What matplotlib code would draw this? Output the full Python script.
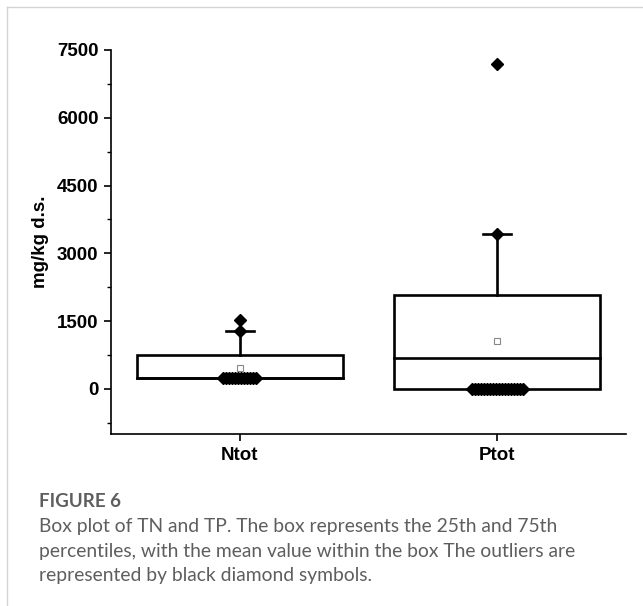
import numpy as np
import matplotlib
matplotlib.use("Agg")
import matplotlib.pyplot as plt
from matplotlib.patches import Rectangle
from matplotlib.lines import Line2D

# ---- data ----
categories = ["Ntot", "Ptot"]
q1 = [240, 0]
median = [240, 690]
q3 = [755, 2080]
mean = [465, 1055]
whisker_high = [1290, 3420]
whisker_low = [240, 0]
outliers_high = [[1290, 1530], [3420, 7200]]
low_cluster_value = [240, 0]
low_cluster_count = [12, 18]

y_ticks = [0, 1500, 3000, 4500, 6000, 7500]
y_label = "mg/kg d.s."
caption_title = "FIGURE 6"
caption_lines = [
    "Box plot of TN and TP. The box represents the 25th and 75th",
    "percentiles, with the mean value within the box The outliers are",
    "represented by black diamond symbols.",
]

fig = plt.figure(figsize=(6.43, 6.06), dpi=100)

# card border (top and left)
fig.add_artist(Line2D([7/643, 7/643], [0, 1 - 7/606], transform=fig.transFigure,
                      color="#d3d3d3", lw=1.0))
fig.add_artist(Line2D([7/643, 1], [1 - 7/606, 1 - 7/606], transform=fig.transFigure,
                      color="#d3d3d3", lw=1.0))

ax = fig.add_axes([111/643, 1 - 434/606, (626 - 111)/643, (434 - 50)/606])
ax.set_xlim(0.5, 2.5)
ax.set_ylim(-1000, 7500)

font = ["Liberation Sans", "DejaVu Sans"]
lw = 1.9
box_w = 0.8
cap_w = 0.11
pos = np.arange(1, len(categories) + 1)

for i, x in enumerate(pos):
    ax.add_patch(Rectangle((x - box_w/2, q1[i]), box_w, q3[i] - q1[i],
                           fill=False, edgecolor="black", lw=lw, zorder=3))
    ax.plot([x - box_w/2, x + box_w/2], [median[i], median[i]], color="black", lw=lw, zorder=3)
    ax.plot([x, x], [q3[i], whisker_high[i]], color="black", lw=lw, zorder=3)
    ax.plot([x - cap_w/2, x + cap_w/2], [whisker_high[i], whisker_high[i]],
            color="black", lw=lw, zorder=3)
    ax.plot([x, x], [q1[i], whisker_low[i]], color="black", lw=lw, zorder=3)
    # mean marker
    ax.plot([x], [mean[i]], marker="s", ms=4, mfc="white", mec="#888888", mew=0.8, zorder=4)
    # high outliers
    ax.plot([x] * len(outliers_high[i]), outliers_high[i], linestyle="none",
            marker="D", ms=6, color="black", zorder=5)
    # low cluster of outliers (jittered row)
    n = low_cluster_count[i]
    half = 0.0117 * (n - 1) / 2
    xs = x + np.linspace(-half, half, n)
    ax.plot(xs, [low_cluster_value[i]] * n, linestyle="none",
            marker="D", ms=6, color="black", zorder=5)

ax.spines["top"].set_visible(False)
ax.spines["right"].set_visible(False)
for s in ["left", "bottom"]:
    ax.spines[s].set_linewidth(1.2)

ax.set_yticks(y_ticks)
ax.set_yticks(np.arange(-750, 7500, 750), minor=True)
ax.set_xticks(pos)
ax.set_xticklabels(categories)
ax.tick_params(axis="both", which="major", length=5, width=1.2, direction="out", pad=4)
ax.tick_params(axis="y", which="minor", length=3, width=1.0, direction="out")
ax.tick_params(axis="x", which="minor", bottom=False)
for lab in ax.get_yticklabels() + ax.get_xticklabels():
    lab.set_fontfamily(font)
    lab.set_fontweight("bold")
    lab.set_fontsize(13.5)
ax.set_ylabel(y_label, fontfamily=font, fontweight="bold", fontsize=13.5, labelpad=6)

# caption
cap_font = ["Lato", "DejaVu Sans"]
fig.text(39/643, 1 - 507/606, caption_title, fontfamily=cap_font,
         fontweight="bold", fontsize=13.5, color="#5e5e5e", va="baseline")
for k, line in enumerate(caption_lines):
    fig.text(39/643, 1 - (532 + 24.5*k)/606, line, fontfamily=cap_font,
             fontsize=13.9, color="#5e5e5e", va="baseline")

fig.savefig("out.png", dpi=100)
